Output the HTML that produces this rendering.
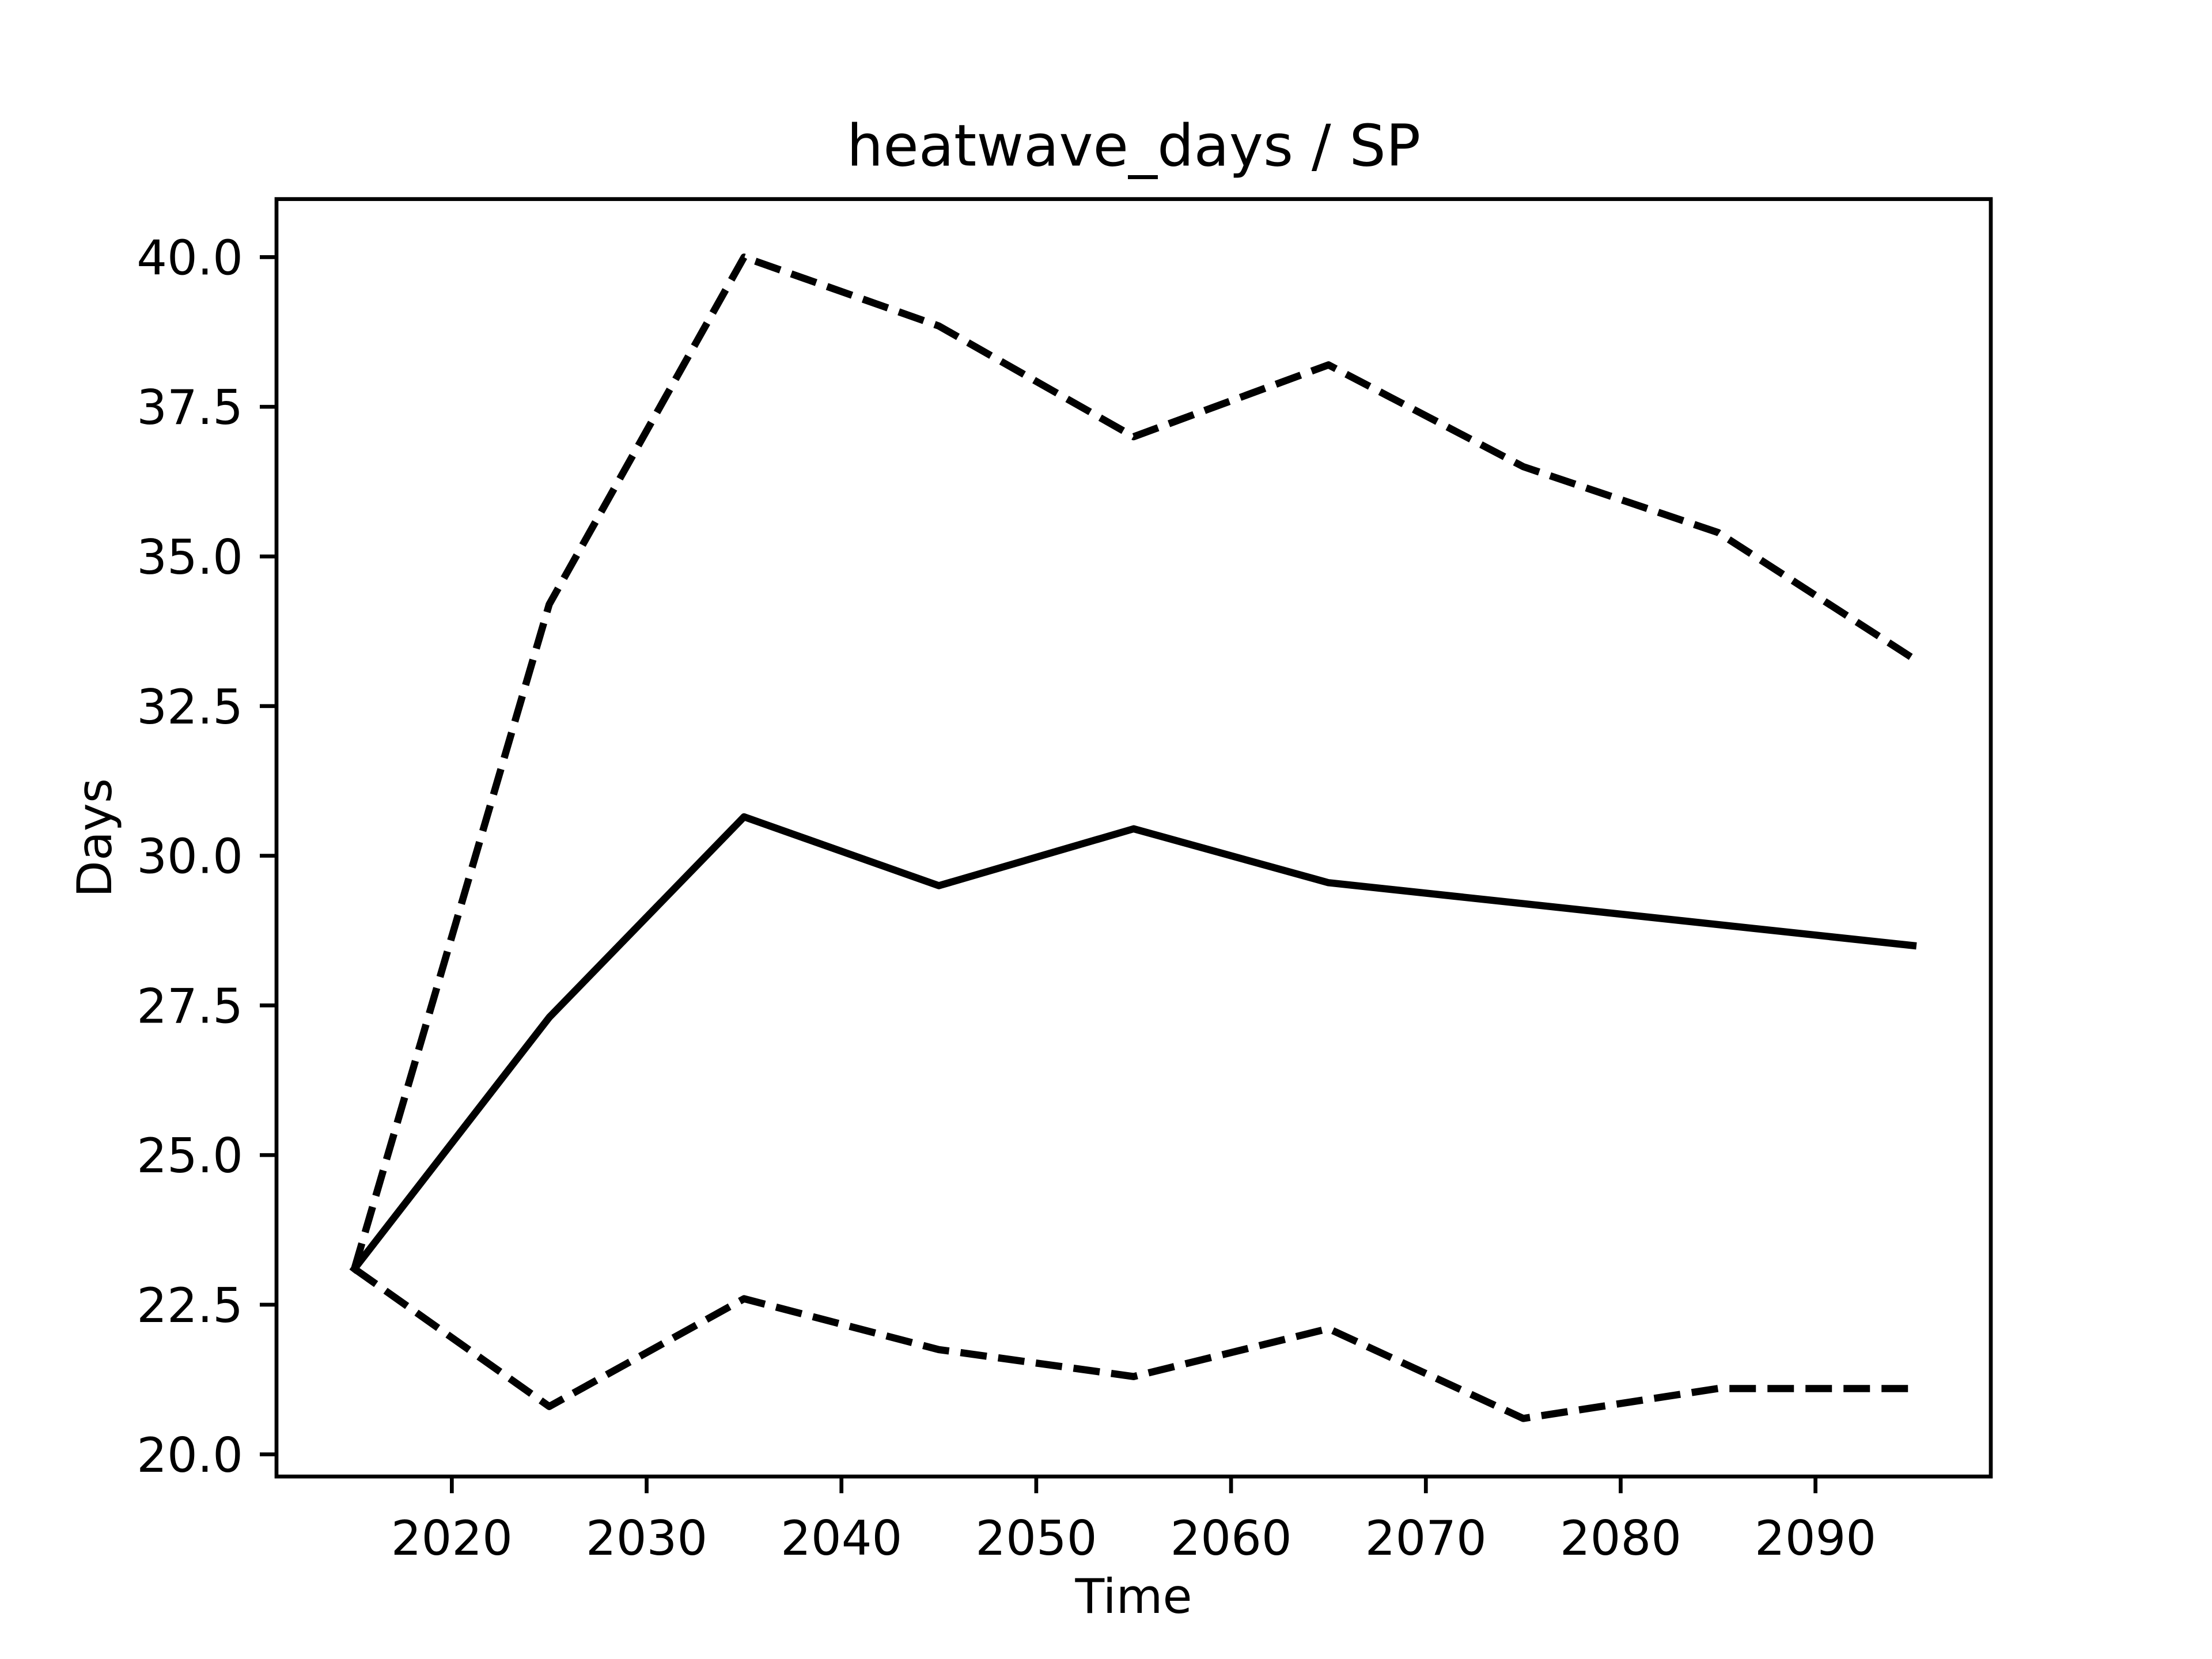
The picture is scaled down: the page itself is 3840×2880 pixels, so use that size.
<!DOCTYPE html>
<html><head><meta charset="utf-8"><style>
html,body{margin:0;padding:0;background:#fff}
svg{display:block}
text{font-family:"DejaVu Sans","Liberation Sans",sans-serif;fill:#000}
</style></head><body>
<svg id="chart" width="3840" height="2880" viewBox="0 0 3840 2880" xmlns="http://www.w3.org/2000/svg">
<rect width="3840" height="2880" fill="#fff"/>
<g id="plot"></g>
</svg>
<script>
const years=[2015,2025,2035,2045,2055,2065,2075,2085,2095];
const meanDays=[23.1,27.3,30.65,29.5,30.45,29.55,29.2,28.85,28.5];
const upperDays=[23.1,34.2,40.0,38.85,37.0,38.2,36.5,35.4,33.3];
const lowerDays=[23.1,20.8,22.6,21.75,21.3,22.1,20.6,21.1,21.1];
const xTicks=[2020,2030,2040,2050,2060,2070,2080,2090];
const yTicks=[20.0,22.5,25.0,27.5,30.0,32.5,35.0,37.5,40.0];

const L=480,R=3456,T=345.6,B=2563.2;
const allV=upperDays.concat(lowerDays,meanDays);
const vmin=Math.min(...allV),vmax=Math.max(...allV);
const ymin=vmin-(vmax-vmin)*0.05,ymax=vmax+(vmax-vmin)*0.05;
const xmin=years[0]-(years[years.length-1]-years[0])*0.05,xmax=years[years.length-1]+(years[years.length-1]-years[0])*0.05;
const sx=v=>L+(v-xmin)/(xmax-xmin)*(R-L);
const sy=v=>B-(v-ymin)/(ymax-ymin)*(B-T);
const NS='http://www.w3.org/2000/svg';
const g=document.getElementById('plot');
function mk(tag,attrs){const e=document.createElementNS(NS,tag);for(const k in attrs)e.setAttribute(k,attrs[k]);g.appendChild(e);return e;}

function series(vals,name,dash){
  const e=mk('polyline',{points:years.map((y,i)=>sx(y)+','+sy(vals[i])).join(' '),fill:'none',stroke:'#000','stroke-width':12.5,'stroke-linejoin':'round','stroke-linecap':dash?'butt':'square'});
  if(dash)e.setAttribute('stroke-dasharray','46 20');
  
  
}
series(upperDays,'upper-bound-line',true);
series(lowerDays,'lower-bound-line',true);
series(meanDays,'mean-line',false);

xTicks.forEach(t=>{
  const l=mk('line',{x1:sx(t),x2:sx(t),y1:B,y2:B+29,stroke:'#000','stroke-width':6.7});
  
  
  const tx=mk('text',{x:sx(t),y:B+58+78,'font-size':83,'text-anchor':'middle'});
  tx.textContent=t;
  
  
});
yTicks.forEach(t=>{
  const l=mk('line',{x1:L-29,x2:L,y1:sy(t),y2:sy(t),stroke:'#000','stroke-width':6.7});
  
  
  const tx=mk('text',{x:L-58,y:sy(t)+30,'font-size':83,'text-anchor':'end'});
  tx.textContent=t.toFixed(1);
  
  
});
const fr=mk('rect',{x:L,y:T,width:R-L,height:B-T,fill:'none',stroke:'#000','stroke-width':6.7});


const ti=mk('text',{x:(L+R)/2,y:T-58,'font-size':100,'text-anchor':'middle'});
ti.textContent='heatwave_days / SP';


const xl=mk('text',{x:(L+R)/2,y:2800,'font-size':83,'text-anchor':'middle'});
xl.textContent='Time';


const yl=mk('text',{x:0,y:0,'font-size':83,'text-anchor':'middle',transform:'translate(193,'+((T+B)/2)+') rotate(-90)'});
yl.textContent='Days';


</script>
</body></html>
